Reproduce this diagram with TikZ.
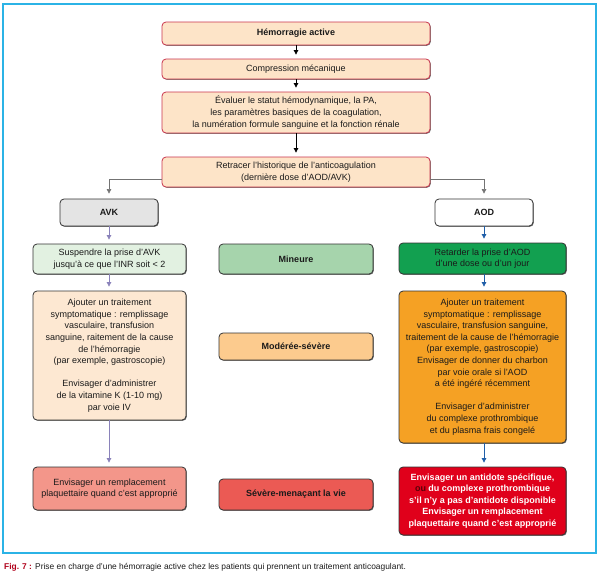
\documentclass[tikz,border=0pt]{standalone}
\usepackage{fontspec}
\setmainfont{Liberation Sans}
\usetikzlibrary{arrows.meta,shadows,calc}
\definecolor{frameblue}{HTML}{2BB3E6}
\definecolor{topfill}{HTML}{FDE4C8}
\definecolor{topdraw}{HTML}{C8344C}
\definecolor{avkfill}{HTML}{E4E4E4}
\definecolor{suspfill}{HTML}{E2F1E1}
\definecolor{minfill}{HTML}{A6D4AC}
\definecolor{lbigfill}{HTML}{FDE8D2}
\definecolor{modfill}{HTML}{FCCB8E}
\definecolor{sevfill}{HTML}{EB5A54}
\definecolor{lbotfill}{HTML}{F3968A}
\definecolor{retfill}{HTML}{12A050}
\definecolor{rbigfill}{HTML}{F5A124}
\definecolor{rredfill}{HTML}{E0001B}
\definecolor{purplearr}{HTML}{8A82BA}
\definecolor{bluearr}{HTML}{1F5EA8}
\definecolor{captred}{HTML}{B0001A}
\definecolor{txt}{HTML}{1A1A1A}
\definecolor{ouc}{HTML}{5A0008}
\tikzset{
  box/.style={rectangle, rounded corners=4pt, draw=black!80, line width=0.8pt,
    align=center, inner sep=0pt, font=\fontsize{9}{11.6}\selectfont, text=txt,
    drop shadow={shadow xshift=0.8pt, shadow yshift=-0.8pt, fill=black, opacity=0.55}},
  topbox/.style={box, fill=topfill, draw=topdraw, minimum width=268pt},
  sidebox/.style={box, minimum width=153pt},
  midbox/.style={box, minimum width=154pt, font=\bfseries\fontsize{9}{11.6}\selectfont},
  rbox/.style={box, minimum width=167pt},
  blackarr/.style={-{Triangle[length=4.5pt,width=4.5pt]}, line width=0.7pt, black, shorten >=4pt},
  grayline/.style={-{Triangle[length=4.5pt,width=4.5pt]}, line width=0.6pt, black!55, shorten >=5pt},
  purparr/.style={-{Triangle[length=4.5pt,width=4.5pt]}, line width=0.7pt, purplearr, shorten >=4pt},
  bluarr/.style={-{Triangle[length=4.5pt,width=4.5pt]}, line width=0.7pt, bluearr, shorten >=4pt},
}
\begin{document}
\begin{tikzpicture}[x=1pt,y=-1pt]
\useasboundingbox (0,0) rectangle (600,576);
\draw[frameblue, line width=1.5pt] (3,4) rectangle (596,553);

\node[topbox, minimum height=23pt, font=\bfseries\fontsize{9}{11.6}\selectfont] (h1) at (296,33.5) {Hémorragie active};
\node[topbox, minimum height=20pt] (h2) at (296,69) {Compression mécanique};
\node[topbox, minimum height=41pt] (h3) at (296,112.5) {Évaluer le statut hémodynamique, la PA,\\les paramètres basiques de la coagulation,\\la numération formule sanguine et la fonction rénale};
\node[topbox, minimum height=30pt] (h4) at (296,172) {Retracer l’historique de l’anticoagulation\\(dernière dose d’AOD/AVK)};

\node[box, fill=avkfill, minimum width=98pt, minimum height=27pt, font=\bfseries\fontsize{9}{11.6}\selectfont] (avk) at (109,212.5) {AVK};
\node[box, fill=white, minimum width=98pt, minimum height=27pt, font=\bfseries\fontsize{9}{11.6}\selectfont] (aod) at (484,212.5) {AOD};

\node[sidebox, fill=suspfill, minimum height=30pt] (susp) at (109.5,259) {Suspendre la prise d’AVK\\jusqu’à ce que l’INR soit < 2};
\node[midbox, fill=minfill, minimum height=30pt] (min) at (296,259) {Mineure};
\node[rbox, fill=retfill, minimum height=31pt] (ret) at (482.5,258.5) {Retarder la prise d’AOD\\d’une dose ou d’un jour};

\node[sidebox, fill=lbigfill, minimum height=129pt] (lbig) at (109.5,355.5) {Ajouter un traitement\\symptomatique : remplissage\\vasculaire, transfusion\\sanguine, raitement de la cause\\de l’hémorragie\\(par exemple, gastroscopie)\\[11.6pt]Envisager d’administrer\\de la vitamine K (1-10 mg)\\par voie IV};
\node[midbox, fill=modfill, minimum height=27pt] (mod) at (296,346.5) {Modérée-sévère};
\node[rbox, fill=rbigfill, minimum height=152pt] (rbig) at (482.5,367) {Ajouter un traitement\\symptomatique : remplissage\\vasculaire, transfusion sanguine,\\traitement de la cause de l’hémorragie\\(par exemple, gastroscopie)\\Envisager de donner du charbon\\par voie orale si l’AOD\\a été ingéré récemment\\[11.6pt]Envisager d’administrer\\du complexe prothrombique\\et du plasma frais congelé};

\node[sidebox, fill=lbotfill, minimum height=43pt] (lbot) at (109.5,488.5) {Envisager un remplacement\\plaquettaire quand c’est approprié};
\node[midbox, fill=sevfill, minimum height=31pt] (sev) at (296,494.5) {Sévère-menaçant la vie};
\node[rbox, fill=rredfill, minimum height=68pt, text=white, font=\bfseries\fontsize{9}{11.6}\selectfont] (rred) at (482.5,501) {Envisager un antidote spécifique,\\{\color{ouc}ou} du complexe prothrombique\\s’il n’y a pas d’antidote disponible\\Envisager un remplacement\\plaquettaire quand c’est approprié};

\draw[blackarr] (h1) -- (h2);
\draw[blackarr] (h2) -- (h3);
\draw[blackarr] (h3) -- (h4);
\draw[grayline] ([yshift=-7pt]h4.west) -| (avk);
\draw[grayline] ([yshift=-7pt]h4.east) -| (aod);
\draw[purparr] (avk) -- (avk |- susp.north);
\draw[purparr] (susp.south -| avk) -- (avk |- lbig.north);
\draw[purparr] (lbig.south -| avk) -- (avk |- lbot.north);
\draw[bluarr] (aod) -- (aod |- ret.north);
\draw[bluarr] (ret.south -| aod) -- (aod |- rbig.north);
\draw[bluarr] (rbig.south -| aod) -- (aod |- rred.north);

\node[anchor=west, inner sep=0pt, font=\fontsize{8.4}{10}\selectfont, text=txt] (cap) at (4,567) {{\bfseries\color{captred}Fig. 7 :} Prise en charge d’une hémorragie active chez les patients qui prennent un traitement anticoagulant.};
\end{tikzpicture}
\end{document}
